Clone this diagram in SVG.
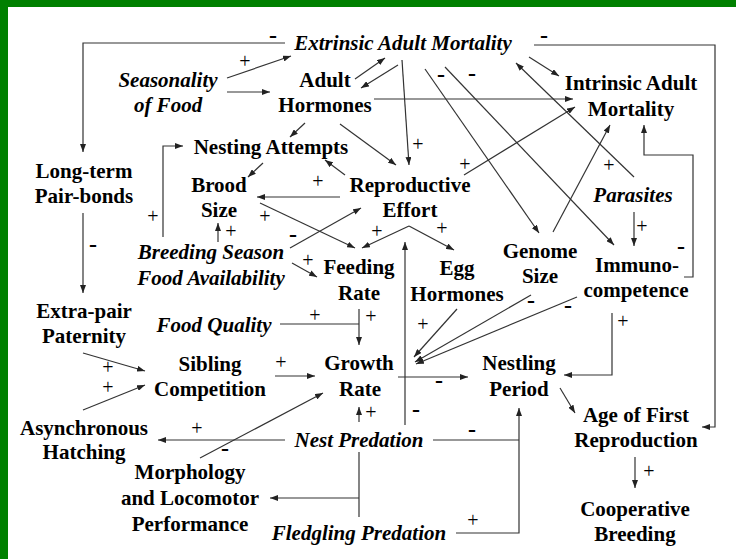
<svg xmlns="http://www.w3.org/2000/svg" width="736" height="559" viewBox="0 0 736 559">
<defs>
<marker id="ah" markerWidth="8" markerHeight="6" refX="8" refY="3" orient="auto" markerUnits="userSpaceOnUse"><path d="M0,0 L8,3 L0,6 z" fill="#222"/></marker>
<style>
text{font-family:'Liberation Serif','Times New Roman',Times,'DejaVu Serif',serif;fill:#000}
.n{font-size:21px;font-weight:bold;text-anchor:middle}
.i{font-style:italic}
.p{font-size:20px;text-anchor:middle}
.m{font-size:24px;font-weight:bold;text-anchor:middle}
#conn path{stroke:#333;stroke-width:1.2;fill:none}
.a{marker-end:url(#ah)}
</style>
</defs>
<rect width="736" height="559" fill="#fff"/>
<rect x="0" y="0" width="736" height="7" fill="#008000"/>
<rect x="0" y="0" width="8" height="559" fill="#008000"/>

<g id="conn">
<path class="a" d="M285,43 H83 V152"/>
<path class="a" d="M227,78 L291,56"/>
<path class="a" d="M227,92 L270,92"/>
<path class="a" d="M355,79 L385,58"/>
<path class="a" d="M398,65 L361,88"/>
<path class="a" d="M374,99 L573,99"/>
<path class="a" d="M529,57 L559,76"/>
<path class="a" d="M534,45 H715 V427 H702"/>
<path class="a" d="M402,60 L409,165"/>
<path class="a" d="M425,69 L539,233"/>
<path class="a" d="M445,67 L614,245"/>
<path class="a" d="M634,177 L516,63"/>
<path class="a" d="M464,175 L575,107"/>
<path class="a" d="M553,232 L610,125"/>
<path class="a" d="M684,277 H693 V155 H644 V125"/>
<path class="a" d="M634,212 V246"/>
<path class="a" d="M305,123 L290,137"/>
<path class="a" d="M340,124 L396,165"/>
<path class="a" d="M345,175 L325,160"/>
<path class="a" d="M263,163 L248,177"/>
<path class="a" d="M340,197 H257"/>
<path class="a" d="M260,203 L355,248"/>
<path class="a" d="M290,248 L361,208"/>
<path class="a" d="M409,226 L362,248"/>
<path class="a" d="M409,226 L454,250"/>
<path class="a" d="M218,242 V223"/>
<path class="a" d="M163,237 V146 H183"/>
<path class="a" d="M292,263 L317,277"/>
<path class="a" d="M83,213 V293"/>
<path d="M280,324 H359"/>
<path class="a" d="M359,309 V345"/>
<path class="a" d="M83,353 L145,371"/>
<path class="a" d="M83,410 L145,385"/>
<path class="a" d="M275,376 H315"/>
<path class="a" d="M200,458 L323,393"/>
<path class="a" d="M285,440 H158"/>
<path class="a" d="M359,422 V407"/>
<path d="M359,452 V517"/>
<path class="a" d="M359,498 H270"/>
<path d="M433,440 H519"/>
<path class="a" d="M456,533 H519 V408"/>
<path class="a" d="M405,425 V242"/>
<path class="a" d="M398,377 H468"/>
<path class="a" d="M457,309 L414,357"/>
<path class="a" d="M531,295 L415,362"/>
<path class="a" d="M577,297 L416,364"/>
<path class="a" d="M612,313 V375 H564"/>
<path class="a" d="M560,388 L575,413"/>
<path class="a" d="M635,457 V488"/>
</g>

<g id="signs">
<text class="m" x="273" y="43">-</text>
<text class="m" x="544" y="43">-</text>
<text class="m" x="441" y="82">-</text>
<text class="m" x="472" y="81">-</text>
<text class="m" x="293" y="242">-</text>
<text class="m" x="93" y="252">-</text>
<text class="m" x="681" y="254">-</text>
<text class="m" x="531" y="308">-</text>
<text class="m" x="568" y="313">-</text>
<text class="m" x="439" y="388">-</text>
<text class="m" x="225" y="456">-</text>
<text class="m" x="416" y="417">-</text>
<text class="m" x="472" y="437">-</text>
<text class="p" x="245" y="68">+</text>
<text class="p" x="418" y="151">+</text>
<text class="p" x="465" y="171">+</text>
<text class="p" x="609" y="172">+</text>
<text class="p" x="318" y="188">+</text>
<text class="p" x="265" y="223">+</text>
<text class="p" x="231" y="238">+</text>
<text class="p" x="153" y="223">+</text>
<text class="p" x="377" y="238">+</text>
<text class="p" x="442" y="235">+</text>
<text class="p" x="308" y="267">+</text>
<text class="p" x="642" y="233">+</text>
<text class="p" x="315" y="322">+</text>
<text class="p" x="371" y="323">+</text>
<text class="p" x="423" y="331">+</text>
<text class="p" x="623" y="328">+</text>
<text class="p" x="108" y="374">+</text>
<text class="p" x="108" y="394">+</text>
<text class="p" x="281" y="369">+</text>
<text class="p" x="197" y="435">+</text>
<text class="p" x="371" y="419">+</text>
<text class="p" x="473" y="527">+</text>
<text class="p" x="649" y="478">+</text>
</g>

<g id="extrinsic"><text class="n i" x="403" y="50">Extrinsic Adult Mortality</text></g>
<g id="seasonality"><text class="n i" x="168" y="87">Seasonality</text><text class="n i" x="168" y="112">of Food</text></g>
<g id="adult-hormones"><text class="n" x="325" y="87">Adult</text><text class="n" x="325" y="112">Hormones</text></g>
<g id="intrinsic"><text class="n" x="631" y="90">Intrinsic Adult</text><text class="n" x="631" y="116">Mortality</text></g>
<g id="nesting"><text class="n" x="271" y="154">Nesting Attempts</text></g>
<g id="longterm"><text class="n" x="84" y="178">Long-term</text><text class="n" x="84" y="203">Pair-bonds</text></g>
<g id="brood"><text class="n" x="219" y="192">Brood</text><text class="n" x="219" y="217">Size</text></g>
<g id="reproductive"><text class="n" x="410" y="192">Reproductive</text><text class="n" x="410" y="217">Effort</text></g>
<g id="parasites"><text class="n i" x="633" y="202">Parasites</text></g>
<g id="breeding"><text class="n i" x="211" y="259">Breeding Season</text><text class="n i" x="211" y="285">Food Availability</text></g>
<g id="feeding"><text class="n" x="359" y="274">Feeding</text><text class="n" x="359" y="300">Rate</text></g>
<g id="egg"><text class="n" x="457" y="275">Egg</text><text class="n" x="457" y="301">Hormones</text></g>
<g id="genome"><text class="n" x="540" y="258">Genome</text><text class="n" x="540" y="283">Size</text></g>
<g id="immuno"><text class="n" x="637" y="272">Immuno-</text><text class="n" x="636" y="297">competence</text></g>
<g id="extrapair"><text class="n" x="84" y="318">Extra-pair</text><text class="n" x="84" y="343">Paternity</text></g>
<g id="foodquality"><text class="n i" x="214" y="332">Food Quality</text></g>
<g id="sibling"><text class="n" x="210" y="371">Sibling</text><text class="n" x="210" y="396">Competition</text></g>
<g id="growth"><text class="n" x="359" y="370">Growth</text><text class="n" x="360" y="396">Rate</text></g>
<g id="nestling"><text class="n" x="519" y="370">Nestling</text><text class="n" x="519" y="396">Period</text></g>
<g id="async"><text class="n" x="84" y="435">Asynchronous</text><text class="n" x="84" y="459">Hatching</text></g>
<g id="agefirst"><text class="n" x="636" y="422">Age of First</text><text class="n" x="636" y="447">Reproduction</text></g>
<g id="nestpred"><text class="n i" x="359" y="447">Nest Predation</text></g>
<g id="morph"><text class="n" x="190" y="479">Morphology</text><text class="n" x="190" y="505">and Locomotor</text><text class="n" x="190" y="531">Performance</text></g>
<g id="coop"><text class="n" x="635" y="516">Cooperative</text><text class="n" x="635" y="541">Breeding</text></g>
<g id="fledgling"><text class="n i" x="359" y="540">Fledgling Predation</text></g>
</svg>
